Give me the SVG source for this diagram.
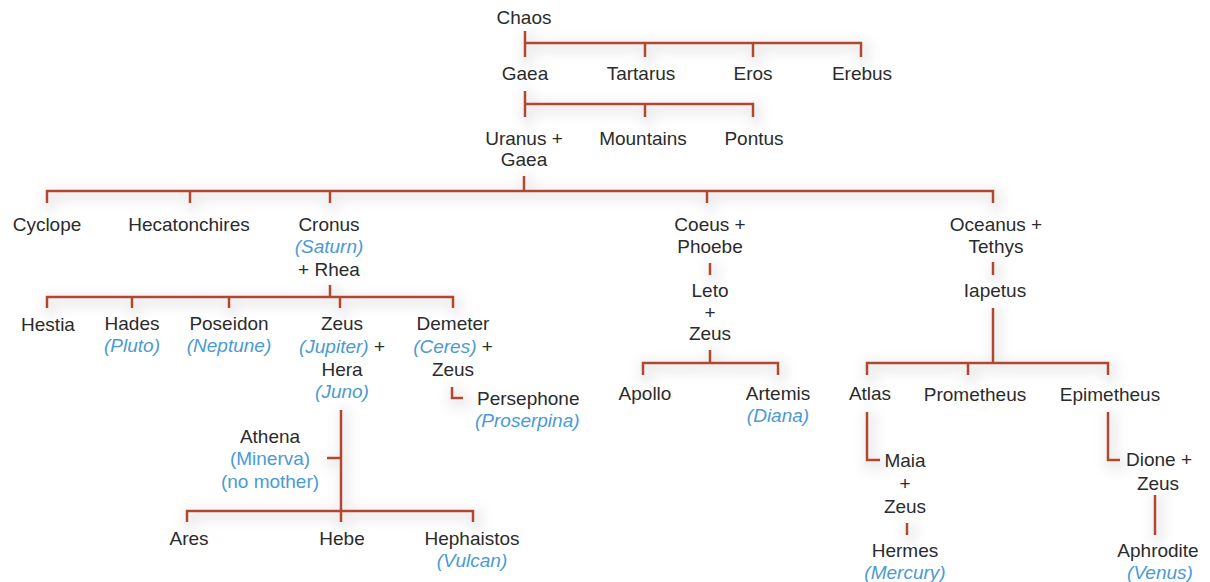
<svg xmlns="http://www.w3.org/2000/svg" width="1210" height="582" viewBox="0 0 1210 582">
<defs>
<filter id="halo" x="-20%" y="-20%" width="140%" height="140%">
<feMorphology in="SourceAlpha" operator="dilate" radius="5" result="d"/>
<feGaussianBlur in="d" stdDeviation="6" result="b"/>
<feOffset in="b" dx="3" dy="4" result="o"/>
<feFlood flood-color="#000" flood-opacity="0.07"/>
<feComposite in2="o" operator="in" result="s"/>
<feMerge><feMergeNode in="s"/><feMergeNode in="SourceGraphic"/></feMerge>
</filter>
<style>
text{font-family:"Liberation Sans",Arial,sans-serif;font-size:19px;fill:#2b2b2b;text-anchor:middle}
.r{fill:#4a9ad4;font-style:italic}
.s{text-anchor:start}
.c{fill:none;stroke:#b0472e;stroke-width:2.5;stroke-linecap:butt;stroke-linejoin:miter}
</style>
</defs>
<rect width="1210" height="582" fill="#fff"/>
<g id="connectors" class="c" filter="url(#halo)">
<path d="M525 31V57M525 43H861V57M645 43V57M753 43V57"/>
<path d="M525 91V117M525 104H753V117M645 104V117"/>
<path d="M524 176V191M47 203V191H993V203M190 191V203M330 191V203M707 191V203"/>
<path d="M330 285V297M47 308V297H453V308M132 297V308M229 297V308M340 297V308"/>
<path d="M710 263V275"/>
<path d="M710 350V363M643 375V363H778V375"/>
<path d="M993 262V275"/>
<path d="M993 308V363M867 375V363H1108V375M968 363V375"/>
<path d="M867 412V460H880"/>
<path d="M907 523V535"/>
<path d="M1108 412V460H1120"/>
<path d="M1155 495V535"/>
<path d="M452 387V398H463"/>
<path d="M341 410V522M187 522V511H473V522M327 458H341"/>
</g>
<g id="chaos"><text x="524" y="24">Chaos</text></g>
<g id="gaea"><text x="525" y="80">Gaea</text></g>
<g id="tartarus"><text x="641" y="80">Tartarus</text></g>
<g id="eros"><text x="753" y="80">Eros</text></g>
<g id="erebus"><text x="862" y="80">Erebus</text></g>
<g id="uranus-gaea"><text x="524" y="145">Uranus +</text><text x="524" y="166">Gaea</text></g>
<g id="mountains"><text x="643" y="145">Mountains</text></g>
<g id="pontus"><text x="754" y="145">Pontus</text></g>
<g id="cyclope"><text x="47" y="231">Cyclope</text></g>
<g id="hecatonchires"><text x="189" y="231">Hecatonchires</text></g>
<g id="cronus-rhea"><text x="329" y="231">Cronus</text><text x="329" y="253" class="r">(Saturn)</text><text x="329" y="276">+ Rhea</text></g>
<g id="coeus-phoebe"><text x="710" y="231">Coeus +</text><text x="710" y="253">Phoebe</text></g>
<g id="leto-zeus"><text x="710" y="297">Leto</text><text x="710" y="319">+</text><text x="710" y="340">Zeus</text></g>
<g id="apollo"><text x="645" y="400">Apollo</text></g>
<g id="artemis"><text x="778" y="400">Artemis</text><text x="778" y="422" class="r">(Diana)</text></g>
<g id="oceanus-tethys"><text x="996" y="231">Oceanus +</text><text x="996" y="253">Tethys</text></g>
<g id="iapetus"><text x="995" y="297">Iapetus</text></g>
<g id="hestia"><text x="48" y="331">Hestia</text></g>
<g id="hades"><text x="132" y="330">Hades</text><text x="132" y="352" class="r">(Pluto)</text></g>
<g id="poseidon"><text x="229" y="330">Poseidon</text><text x="229" y="352" class="r">(Neptune)</text></g>
<g id="zeus-hera"><text x="342" y="330">Zeus</text><text x="342" y="353"><tspan class="r">(Jupiter)</tspan> +</text><text x="342" y="376">Hera</text><text x="342" y="398" class="r">(Juno)</text></g>
<g id="demeter-zeus"><text x="453" y="330">Demeter</text><text x="453" y="353"><tspan class="r">(Ceres)</tspan> +</text><text x="453" y="376">Zeus</text></g>
<g id="persephone"><text x="477" y="405" class="s">Persephone</text><text x="475" y="427" class="s r">(Proserpina)</text></g>
<g id="athena"><text x="270" y="443">Athena</text><text x="270" y="465" class="r" style="font-style:normal">(Minerva)</text><text x="270" y="488" class="r" style="font-style:normal">(no mother)</text></g>
<g id="ares"><text x="189" y="545">Ares</text></g>
<g id="hebe"><text x="342" y="545">Hebe</text></g>
<g id="hephaistos"><text x="472" y="545">Hephaistos</text><text x="472" y="567" class="r">(Vulcan)</text></g>
<g id="atlas"><text x="870" y="400">Atlas</text></g>
<g id="prometheus"><text x="975" y="401">Prometheus</text></g>
<g id="epimetheus"><text x="1110" y="401">Epimetheus</text></g>
<g id="maia-zeus"><text x="905" y="467">Maia</text><text x="905" y="490">+</text><text x="905" y="513">Zeus</text></g>
<g id="hermes"><text x="905" y="557">Hermes</text><text x="905" y="579" class="r">(Mercury)</text></g>
<g id="dione-zeus"><text x="1159" y="466">Dione +</text><text x="1158" y="490">Zeus</text></g>
<g id="aphrodite"><text x="1158" y="557">Aphrodite</text><text x="1160" y="579" class="r">(Venus)</text></g>
</svg>
